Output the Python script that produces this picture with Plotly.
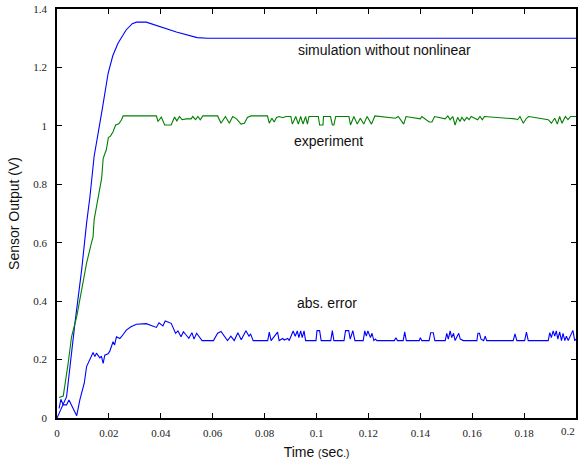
import plotly.graph_objects as go

# Simulation without nonlinear
sim_t = [0, 0.0037, 0.0069, 0.0095, 0.0114, 0.0127, 0.0143, 0.0159, 0.0174, 0.0197,
         0.0215, 0.0235, 0.0267, 0.0290, 0.0306, 0.0344, 0.0395, 0.046, 0.054, 0.058, 0.2]
sim_v = [0, 0.073, 0.324, 0.507, 0.667, 0.758, 0.895, 0.986, 1.055, 1.18,
         1.24, 1.283, 1.329, 1.35, 1.355, 1.355, 1.34, 1.321, 1.302, 1.30, 1.30]

# Experiment
exp_t = [0.0008, 0.0024, 0.0043, 0.0056, 0.0076, 0.0095, 0.0114, 0.0133, 0.0139, 0.0143,
         0.0159, 0.0172, 0.0178, 0.019, 0.0198, 0.0206, 0.0216, 0.0226, 0.0238, 0.0248,
         0.0255, 0.0383, 0.0389, 0.0402, 0.0415, 0.044, 0.0453, 0.0462, 0.0472, 0.0482,
         0.0498, 0.0517, 0.0523, 0.0534, 0.0543, 0.0552, 0.0562, 0.0619, 0.0632, 0.0649,
         0.0664, 0.0677, 0.0692, 0.0709, 0.0722, 0.0734, 0.0747, 0.0811, 0.0818, 0.0828,
         0.0837, 0.0846, 0.0856, 0.0870, 0.0882, 0.0901, 0.0907, 0.092, 0.093, 0.0939,
         0.0948, 0.0958, 0.0965, 0.0971, 0.1007, 0.1012, 0.1025, 0.1027, 0.1054, 0.1061,
         0.1067, 0.1074, 0.1125, 0.1131, 0.1144, 0.1157, 0.1169, 0.1182, 0.1195, 0.1212,
         0.1225, 0.1304, 0.1315, 0.1336, 0.1345, 0.14, 0.1406, 0.1434, 0.1445, 0.1455,
         0.1496, 0.1506, 0.1515, 0.1525, 0.1534, 0.1544, 0.1553, 0.156, 0.157, 0.1579,
         0.1588, 0.1596, 0.1621, 0.163, 0.1639, 0.1647, 0.1765, 0.1775, 0.1784, 0.1797,
         0.1809, 0.1818, 0.1893, 0.1905, 0.1918, 0.1928, 0.1937, 0.1946, 0.1959, 0.1969,
         0.1979, 0.2]
exp_v = [0.07, 0.075, 0.187, 0.278, 0.347, 0.438, 0.53, 0.6, 0.62, 0.678,
         0.758, 0.82, 0.889, 0.918, 0.96, 0.965, 0.98, 1.003, 1.007, 1.02,
         1.034, 1.034, 1.015, 1.03, 1.003, 1.003, 1.03, 1.017, 1.032, 1.021,
         1.024, 1.024, 1.032, 1.021, 1.032, 1.021, 1.034, 1.034, 1.009, 1.032,
         1.009, 1.032, 1.024, 1.006, 1.009, 1.029, 1.034, 1.034, 1.009, 1.026,
         1.013, 1.029, 1.032, 1.028, 1.032, 1.032, 1.006, 1.032, 1.006, 1.032,
         1.006, 1.032, 1.006, 1.032, 1.032, 1.003, 1.003, 1.032, 1.032, 1.003,
         1.003, 1.032, 1.032, 1.003, 1.032, 1.006, 1.026, 1.006, 1.032, 1.006,
         1.034, 1.026, 1.032, 1.006, 1.032, 1.024, 1.032, 1.013, 1.013, 1.032,
         1.024, 1.034, 1.021, 1.032, 1.003, 1.029, 1.015, 1.029, 1.017, 1.029,
         1.021, 1.032, 1.021, 1.032, 1.021, 1.032, 1.024, 1.021, 1.032, 1.009,
         1.026, 1.032, 1.021, 1.009, 1.026, 1.006, 1.032, 1.009, 1.032, 1.021,
         1.032, 1.032]

# Absolute error
err_t = [0.0008, 0.0015, 0.0024, 0.0037, 0.0046, 0.0059, 0.0072, 0.0076, 0.0088, 0.0105,
         0.0114, 0.0127, 0.0139, 0.0146, 0.0152, 0.0165, 0.0171, 0.0178, 0.0184, 0.0197,
         0.0203, 0.0216, 0.0222, 0.0229, 0.0242, 0.0250, 0.0267, 0.0285, 0.0306, 0.0344,
         0.0383, 0.0393, 0.0408, 0.0417, 0.0440, 0.0457, 0.0466, 0.0478, 0.0487, 0.0497,
         0.0508, 0.0520, 0.0528, 0.0538, 0.0559, 0.0603, 0.0619, 0.0632, 0.0645, 0.0657,
         0.0670, 0.0683, 0.0697, 0.0710, 0.0728, 0.0740, 0.0746, 0.0756, 0.0812, 0.0818,
         0.0825, 0.0850, 0.0856, 0.0870, 0.0876, 0.0889, 0.0895, 0.0910, 0.0918, 0.0926,
         0.0932, 0.0939, 0.0945, 0.0952, 0.0958, 0.0998, 0.1002, 0.1012, 0.1018, 0.1055,
         0.1061, 0.1067, 0.1106, 0.1112, 0.1124, 0.1130, 0.1140, 0.1148, 0.1180, 0.1186,
         0.1192, 0.1198, 0.1208, 0.1214, 0.1221, 0.1227, 0.1233, 0.1300, 0.1306, 0.1312,
         0.1334, 0.1340, 0.1346, 0.1396, 0.1400, 0.1406, 0.1434, 0.1440, 0.1450, 0.1456,
         0.1496, 0.1502, 0.1508, 0.1515, 0.1521, 0.1528, 0.1534, 0.1548, 0.1554, 0.1566,
         0.1618, 0.1622, 0.1628, 0.1634, 0.1644, 0.1650, 0.1656, 0.1758, 0.1765, 0.1772,
         0.1802, 0.1809, 0.1816, 0.1893, 0.1899, 0.1905, 0.1912, 0.1918, 0.1924, 0.1930,
         0.1937, 0.1944, 0.1950, 0.1957, 0.1963, 0.1970, 0.1988, 0.1995, 0.2]
err_v = [0.033, 0.064, 0.045, 0.045, 0.062, 0.039, 0.014, 0.008, 0.062, 0.119,
         0.176, 0.204, 0.224, 0.21, 0.222, 0.206, 0.212, 0.187, 0.215, 0.22,
         0.228, 0.261, 0.25, 0.278, 0.272, 0.28, 0.301, 0.312, 0.321, 0.323,
         0.31, 0.326, 0.315, 0.332, 0.324, 0.29, 0.298, 0.278, 0.295, 0.285,
         0.273, 0.292, 0.27, 0.29, 0.265, 0.265, 0.29, 0.296, 0.28, 0.265,
         0.28, 0.265, 0.292, 0.268, 0.299, 0.28, 0.288, 0.265, 0.265, 0.294,
         0.265, 0.294, 0.265, 0.272, 0.267, 0.272, 0.265, 0.298, 0.28, 0.298,
         0.275, 0.298, 0.275, 0.298, 0.265, 0.265, 0.299, 0.299, 0.265, 0.265,
         0.299, 0.265, 0.265, 0.299, 0.299, 0.27, 0.299, 0.265, 0.265, 0.298,
         0.28, 0.298, 0.275, 0.29, 0.265, 0.27, 0.265, 0.265, 0.275, 0.265,
         0.265, 0.295, 0.265, 0.265, 0.275, 0.265, 0.265, 0.292, 0.292, 0.265,
         0.265, 0.29, 0.27, 0.298, 0.275, 0.29, 0.265, 0.29, 0.27, 0.265,
         0.265, 0.29, 0.29, 0.27, 0.265, 0.28, 0.265, 0.265, 0.288, 0.265,
         0.265, 0.294, 0.265, 0.265, 0.292, 0.275, 0.298, 0.28, 0.298, 0.27,
         0.295, 0.265, 0.29, 0.265, 0.28, 0.265, 0.3, 0.265, 0.27]

x_ticks = [0, 0.02, 0.04, 0.06, 0.08, 0.1, 0.12, 0.14, 0.16, 0.18, 0.2]
x_tick_labels = ["0", "0.02", "0.04", "0.06", "0.08", "0.1", "0.12", "0.14", "0.16", "0.18", "0.2"]
y_ticks = [0, 0.2, 0.4, 0.6, 0.8, 1.0, 1.2, 1.4]
y_tick_labels = ["0", "0.2", "0.4", "0.6", "0.8", "1", "1.2", "1.4"]

labels = ["simulation without nonlinear", "experiment", "abs. error"]
label_t = [0.0921, 0.0907, 0.0917]
label_v = [1.26, 0.949, 0.394]

tick_font = dict(family="Liberation Serif, Times New Roman", size=11, color="#222")

fig = go.Figure()
fig.add_trace(go.Scatter(x=sim_t, y=sim_v, mode="lines", line=dict(color="#0000ff", width=1.1)))
fig.add_trace(go.Scatter(x=exp_t, y=exp_v, mode="lines", line=dict(color="#008000", width=1.1)))
fig.add_trace(go.Scatter(x=err_t, y=err_v, mode="lines", line=dict(color="#0000ff", width=1.1)))

for txt, tx, ty in zip(labels, label_t, label_v):
    fig.add_annotation(x=tx, y=ty, text=txt, showarrow=False, xanchor="left", yanchor="middle",
                       font=dict(family="Liberation Sans, Arial", size=14, color="#111"))

# the last x tick label sits on the page edge; plotly drops it, so place it as an annotation
fig.add_annotation(x=x_ticks[-1], y=0, yref="paper", text=x_tick_labels[-1], showarrow=False,
                   xanchor="right", yanchor="top", xshift=1, yshift=-5, font=tick_font)

axis_common = dict(showline=True, linecolor="black", linewidth=1.5, mirror="ticks",
                   ticks="inside", ticklen=5, tickwidth=1, tickcolor="black",
                   showgrid=False, zeroline=False, tickmode="array", tickfont=tick_font)

fig.update_xaxes(range=[0, 0.2], tickvals=x_ticks[:-1], ticktext=x_tick_labels[:-1], ticklabelstandoff=4,
                 title=dict(text="Time <span style='font-size:10px'>(</span>sec<span style='font-size:10px'>.)</span>",
                            font=dict(family="Liberation Sans, Arial", size=14, color="#111"), standoff=9),
                 **axis_common)
fig.update_yaxes(range=[0, 1.4], tickvals=y_ticks, ticktext=y_tick_labels, ticklabelstandoff=6,
                 title=dict(text="Sensor Output (V)",
                            font=dict(family="Liberation Sans, Arial", size=14, color="#111"), standoff=10),
                 **axis_common)

fig.update_layout(width=579, height=461, margin=dict(l=57, r=1, t=9, b=43),
                  paper_bgcolor="white", plot_bgcolor="white", showlegend=False)

fig.write_html("out.html")
